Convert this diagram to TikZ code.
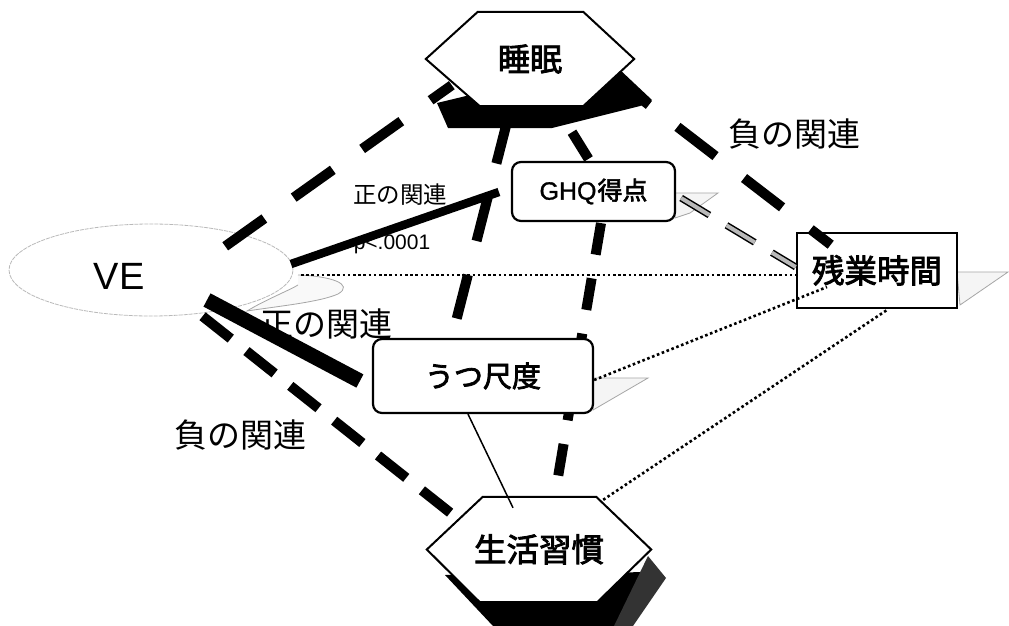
\documentclass[tikz,border=0pt]{standalone}
\usepackage{fontspec}
\setmainfont{Liberation Sans}
\newfontfamily\jp{Noto Sans CJK JP}
\newfontfamily\jpb{Noto Sans CJK JP}[FakeBold=2.6]
\newfontfamily\lsb{Liberation Sans}[FakeBold=1.2]
\usetikzlibrary{shapes.geometric}
\newcommand\setfs[1]{\fontsize{#1}{#1}\selectfont}
\pgfdeclarelayer{bg}\pgfdeclarelayer{under}\pgfdeclarelayer{shapes}
\pgfsetlayers{bg,under,shapes,main}
\begin{document}
\begin{tikzpicture}[x=1pt,y=-1pt,
  rbox/.style={draw, line width=2.2pt, rounded corners=9pt, fill=white, inner sep=0pt},
  sqbox/.style={draw, line width=2.6pt, fill=white, inner sep=0pt},
  hexa/.style={inner sep=0pt},
  hexline/.style={draw, line width=2pt, fill=white, line join=miter},
  thickdash/.style={line width=10pt, dash pattern=on 48pt off 36pt},
  thickdashb/.style={line width=10pt, dash pattern=on 36pt off 20pt},
  middash/.style={line width=10pt, dash pattern=on 32pt off 24pt},
  hatchdash/.style={line width=4pt, draw=gray!55, dash pattern=on 33pt off 20pt,
     preaction={draw=black, line width=7pt, dash pattern=on 33pt off 20pt}},
  dots/.style={line width=2.6pt, dash pattern=on 2.6pt off 2.6pt},
  solidthick/.style={line width=8.5pt},
  shade/.style={draw=gray!70, line width=0.8pt, fill=gray!8},
  lbl/.style={inner sep=0pt},
]
\useasboundingbox (0,0) rectangle (1009,626);
\begin{pgfonlayer}{bg}
\fill[white] (0,0) rectangle (1009,626);
% shadow of sleep hexagon
\fill[black] (437,103) -- (448,128) -- (552,128) -- (640,106) -- (652,100) -- (618,68) -- (530,80) -- (466,96) -- cycle;
% shadow of lifestyle hexagon
\fill[black] (445,575) -- (493,626) -- (618,626) -- (650,572) -- cycle;
\fill[gray!40!black] (648,556) -- (666,578) -- (633,626) -- (614,626) -- cycle;
% small shadows of boxes
\filldraw[shade] (675,193) -- (718,193) -- (690,213) -- (675,218) -- cycle;
\filldraw[shade] (593,378) -- (648,378) -- (593,410) -- cycle;
\filldraw[shade] (957,272) -- (1008,272) -- (960,305) -- cycle;
\draw[gray!70, line width=0.8pt, fill=gray!5] (298,275) .. controls (330,276) and (355,284) .. (338,294) .. controls (320,302) and (280,306) .. (247,311) .. controls (265,300) and (290,290) .. (298,285);
\end{pgfonlayer}

% nodes
\node[ellipse, draw=gray!55, line width=0.8pt, dash pattern=on 4pt off 1pt, minimum width=284pt, minimum height=92pt, inner sep=0pt] (ve) at (151,270) {};
\node[lbl] (velabel) at (119,276) {\setfs{38}VE};
\node[rbox, minimum width=163pt, minimum height=59pt] (ghq) at (593.5,191.5) {\setfs{25}{\lsb GHQ}\kern1pt{\jpb 得点}};
\node[rbox, minimum width=220pt, minimum height=74pt] (utsu) at (483,376) {\setfs{29}\jpb うつ尺度};
\node[sqbox, minimum width=160pt, minimum height=75pt] (zan) at (877,270.5) {\raisebox{3pt}{\setfs{32.5}\jpb 残業時間}};
\node[hexa, minimum width=208pt, minimum height=94pt] (sleep) at (530,59) {\setfs{32}\jpb 睡眠};
\node[hexa, minimum width=224pt, minimum height=105pt] (sei) at (539,549.5) {\raisebox{3pt}{\setfs{32.5}\jpb 生活習慣}};

\begin{pgfonlayer}{shapes}
\draw[hexline] (sleep.west) -- ([xshift=52pt]sleep.north west) -- ([xshift=-51pt]sleep.north east) -- (sleep.east) -- ([xshift=-51pt]sleep.south east) -- ([xshift=54pt]sleep.south west) -- cycle;
\draw[hexline] (sei.west) -- ([xshift=56pt]sei.north west) -- ([xshift=-55pt]sei.north east) -- (sei.east) -- ([xshift=-54pt]sei.south east) -- ([xshift=53pt]sei.south west) -- cycle;
\end{pgfonlayer}

% labels
\node[lbl] (l1) at (400,195) {\setfs{23.5}\jp 正の関連};
\node[lbl] (l2) at (392,244) {\setfs{21}p<.0001};
\node[lbl] (l3) at (326,324) {\setfs{33}\jp 正の関連};
\node[lbl] (l4) at (240,435) {\setfs{33}\jp 負の関連};
\node[lbl] (l5) at (794,134) {\setfs{33}\jp 負の関連};

% connectors
\begin{pgfonlayer}{under}
\draw[middash] ([shift={(7.5,1)}]ghq.south) -- ([shift={(16,-2)}]sei.north);
\end{pgfonlayer}
\draw[solidthick] ([shift={(140,-6)}]ve.center) -- ([shift={(-12,0.5)}]ghq.west);
\draw[dots] ([shift={(150,5)}]ve.center) -- ([shift={(0,4.5)}]zan.west);
\draw[line width=15pt] ([shift={(56,30)}]ve.center) -- ([shift={(-12,5)}]utsu.west);
\draw[thickdashb, dash phase=54pt] ([shift={(50,45)}]ve.center) -- ([shift={(25,-35.5)}]sei.west);
\draw[thickdash, dash phase=69pt] ([shift={(62,-15)}]ve.center) -- ([shift={(26,-21)}]sleep.south west);
\draw[thickdash, dash phase=37pt] ([shift={(6,-8)}]sleep.south east) -- ([shift={(35,13)}]zan.north west);
\draw[line width=10pt, dash pattern=on 45pt off 35pt, dash phase=70pt] ([shift={(-20,4)}]sleep.south) -- ([shift={(-31,-1)}]utsu.north);
\draw[line width=10pt] ([shift={(42,26)}]sleep.south) -- ([shift={(-5,-2)}]ghq.north);
\draw[hatchdash] ([shift={(5,6.5)}]ghq.east) -- ([shift={(0,-3.5)}]zan.west);
\draw[dots] ([shift={(0,4)}]utsu.east) -- ([shift={(-50,16.5)}]zan.center);
\draw[dots] ([shift={(-48,3)}]sei.north east) -- ([shift={(11,0)}]zan.south);
\draw[line width=1.5pt] ([shift={(-15,0)}]utsu.south) -- ([shift={(-26,11)}]sei.north);
\end{tikzpicture}
\end{document}
